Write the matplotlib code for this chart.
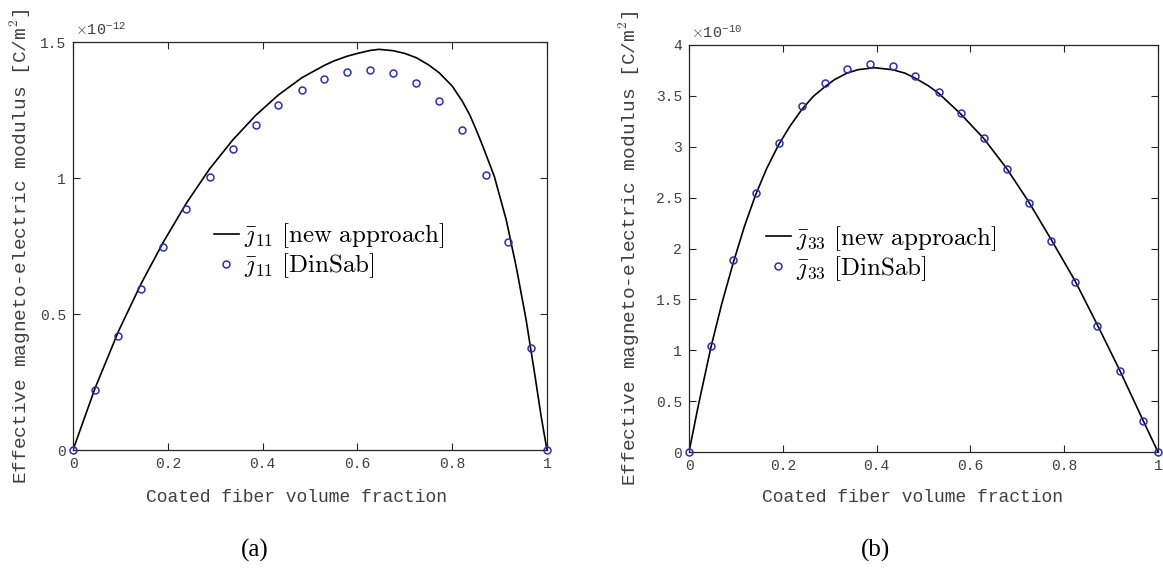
import matplotlib
matplotlib.use("Agg")
import matplotlib.pyplot as plt
from matplotlib.ticker import FixedLocator, FixedFormatter

plt.rcParams['mathtext.fontset'] = 'cm'

# ---------------- data ----------------
# Panel (a): j11
a_curve_x = [0, 0.0465, 0.0958, 0.1444, 0.1908, 0.2394, 0.288, 0.3366, 0.3852,
             0.4331, 0.4831, 0.5303, 0.55, 0.5789, 0.60, 0.6268, 0.646, 0.6754,
             0.70, 0.7246, 0.75, 0.7725, 0.80, 0.8211, 0.837, 0.85, 0.865,
             0.889, 0.914, 0.935, 0.956, 0.974, 0.988, 1.0]
a_curve_y = [0, 0.227, 0.436, 0.614, 0.765, 0.908, 1.033, 1.139, 1.230, 1.305,
             1.369, 1.414, 1.430, 1.448, 1.458, 1.469, 1.473, 1.468, 1.458,
             1.442, 1.416, 1.387, 1.338, 1.283, 1.232, 1.180, 1.115, 1.005,
             0.846, 0.674, 0.478, 0.280, 0.120, 0]
a_pts_x = [0, 0.0465, 0.0958, 0.1444, 0.1908, 0.2394, 0.288, 0.3366, 0.3852,
           0.4331, 0.4831, 0.5303, 0.5789, 0.6268, 0.6754, 0.7246, 0.7725,
           0.8211, 0.8711, 0.9183, 0.9656, 1.0]
a_pts_y = [0, 0.221, 0.420, 0.593, 0.746, 0.886, 1.003, 1.107, 1.196, 1.267,
           1.323, 1.364, 1.391, 1.398, 1.386, 1.349, 1.283, 1.178, 1.010,
           0.763, 0.374, 0]

# Panel (b): j33
b_curve_x = [0, 0.02, 0.047, 0.07, 0.094, 0.118, 0.142, 0.165, 0.191, 0.215,
             0.240, 0.265, 0.289, 0.31, 0.337, 0.36, 0.395, 0.434, 0.46, 0.482,
             0.51, 0.532, 0.579, 0.628, 0.677, 0.724, 0.772, 0.823, 0.871,
             0.919, 0.968, 1.0]
b_curve_y = [0, 0.46, 1.034, 1.46, 1.854, 2.215, 2.527, 2.78, 3.019, 3.20,
             3.363, 3.495, 3.587, 3.659, 3.724, 3.757, 3.777, 3.757, 3.724,
             3.675, 3.600, 3.527, 3.324, 3.084, 2.789, 2.461, 2.090, 1.683,
             1.247, 0.797, 0.312, 0]
b_pts_x = [0, 0.047, 0.094, 0.142, 0.191, 0.240, 0.289, 0.337, 0.385, 0.434,
           0.482, 0.532, 0.579, 0.628, 0.677, 0.724, 0.772, 0.823, 0.871,
           0.919, 0.968, 1.0]
b_pts_y = [0, 1.040, 1.887, 2.550, 3.039, 3.396, 3.623, 3.767, 3.816, 3.797,
           3.698, 3.541, 3.327, 3.084, 2.779, 2.448, 2.077, 1.673, 1.237,
           0.794, 0.308, 0]

x_ticks = [0, 0.2, 0.4, 0.6, 0.8, 1]
x_ticklabels = ['0', '0.2', '0.4', '0.6', '0.8', '1']
a_yticks = [0, 0.5, 1, 1.5]
a_yticklabels = ['0', '0.5', '1', '1.5']
b_yticks = [0, 0.5, 1, 1.5, 2, 2.5, 3, 3.5, 4]
b_yticklabels = ['0', '0.5', '1', '1.5', '2', '2.5', '3', '3.5', '4']

xlabel = 'Coated fiber volume fraction'
ylabel = r'Effective magneto-electric modulus [C/m$^2$]'
a_labels = [r'$\bar{\jmath}_{11}\ \mathrm{[new\ approach]}$',
            r'$\bar{\jmath}_{11}\ \mathrm{[DinSab]}$']
b_labels = [r'$\bar{\jmath}_{33}\ \mathrm{[new\ approach]}$',
            r'$\bar{\jmath}_{33}\ \mathrm{[DinSab]}$']
a_exp = r'$\times$10$^{\mathregular{-12}}$'
b_exp = r'$\times$10$^{\mathregular{-10}}$'
captions = ['(a)', '(b)']

# ---------------- styling ----------------
W, H = 1163, 569
fig = plt.figure(figsize=(W / 100, H / 100), dpi=100)
mono = 'Liberation Mono'
txtc = '#404040'
spinec = '#262626'
blue = '#2e2eae'


def px_axes(x0, y0, x1, y1):
    return [x0 / W, 1 - y1 / H, (x1 - x0) / W, (y1 - y0) / H]


def style(ax, ylim, yticks, yticklabels):
    ax.set_xlim(0, 1)
    ax.set_ylim(*ylim)
    ax.xaxis.set_major_locator(FixedLocator(x_ticks))
    ax.xaxis.set_major_formatter(FixedFormatter(x_ticklabels))
    ax.yaxis.set_major_locator(FixedLocator(yticks))
    ax.yaxis.set_major_formatter(FixedFormatter(yticklabels))
    ax.tick_params(direction='in', length=5, width=0.8, color=spinec,
                   top=True, right=True, labelsize=10.5, labelcolor=txtc, pad=5)
    for lab in ax.get_xticklabels() + ax.get_yticklabels():
        lab.set_family(mono)
    for s in ax.spines.values():
        s.set_color(spinec)
        s.set_linewidth(0.9)


panels = [
    dict(box=(73, 42, 547, 450), ylim=(0, 1.5), yt=a_yticks, ytl=a_yticklabels,
         cx=a_curve_x, cy=a_curve_y, px=a_pts_x, py=a_pts_y, labels=a_labels,
         exp=a_exp, leg=(0.297, 0.56), ylab_x=20, xlab_x=296, cap_x=255,
         cap=captions[0]),
    dict(box=(689, 45, 1158, 452), ylim=(0, 4), yt=b_yticks, ytl=b_yticklabels,
         cx=b_curve_x, cy=b_curve_y, px=b_pts_x, py=b_pts_y, labels=b_labels,
         exp=b_exp, leg=(0.164, 0.56), ylab_x=629, xlab_x=913, cap_x=876,
         cap=captions[1]),
]

for p in panels:
    x0, y0, x1, y1 = p['box']
    ax = fig.add_axes(px_axes(x0, y0, x1, y1))
    ax.plot(p['cx'], p['cy'], color='black', lw=1.2, label=p['labels'][0],
            zorder=2)
    ax.plot(p['px'], p['py'], linestyle='none', marker='o', markersize=5,
            markerfacecolor='none', markeredgecolor=blue, markeredgewidth=1.1,
            label=p['labels'][1], clip_on=False, zorder=3)
    style(ax, p['ylim'], p['yt'], p['ytl'])
    leg = ax.legend(loc='upper left', bbox_to_anchor=p['leg'], frameon=False,
                    numpoints=1, handlelength=1.0,
                    handletextpad=0.2, borderpad=0, borderaxespad=0,
                    labelspacing=0.05, prop={'size': 18})
    # exponent label
    ax.text(0.005, 1.01, p['exp'], transform=ax.transAxes, ha='left',
            va='bottom', fontsize=11, color=txtc, family=mono)
    # axis labels
    fig.text(p['xlab_x'] / W, 1 - 497 / H, xlabel, ha='center', va='center',
             fontsize=13, color=txtc, family=mono)
    fig.text(p['ylab_x'] / W, 1 - ((y0 + y1) / 2) / H, ylabel, ha='center',
             va='center', rotation=90, fontsize=14, color=txtc, family=mono)
    fig.text(p['cap_x'] / W, 1 - 550 / H, p['cap'], ha='center', va='center',
             fontsize=18, color='black', family='Liberation Serif')

fig.savefig('out.png', dpi=100)
